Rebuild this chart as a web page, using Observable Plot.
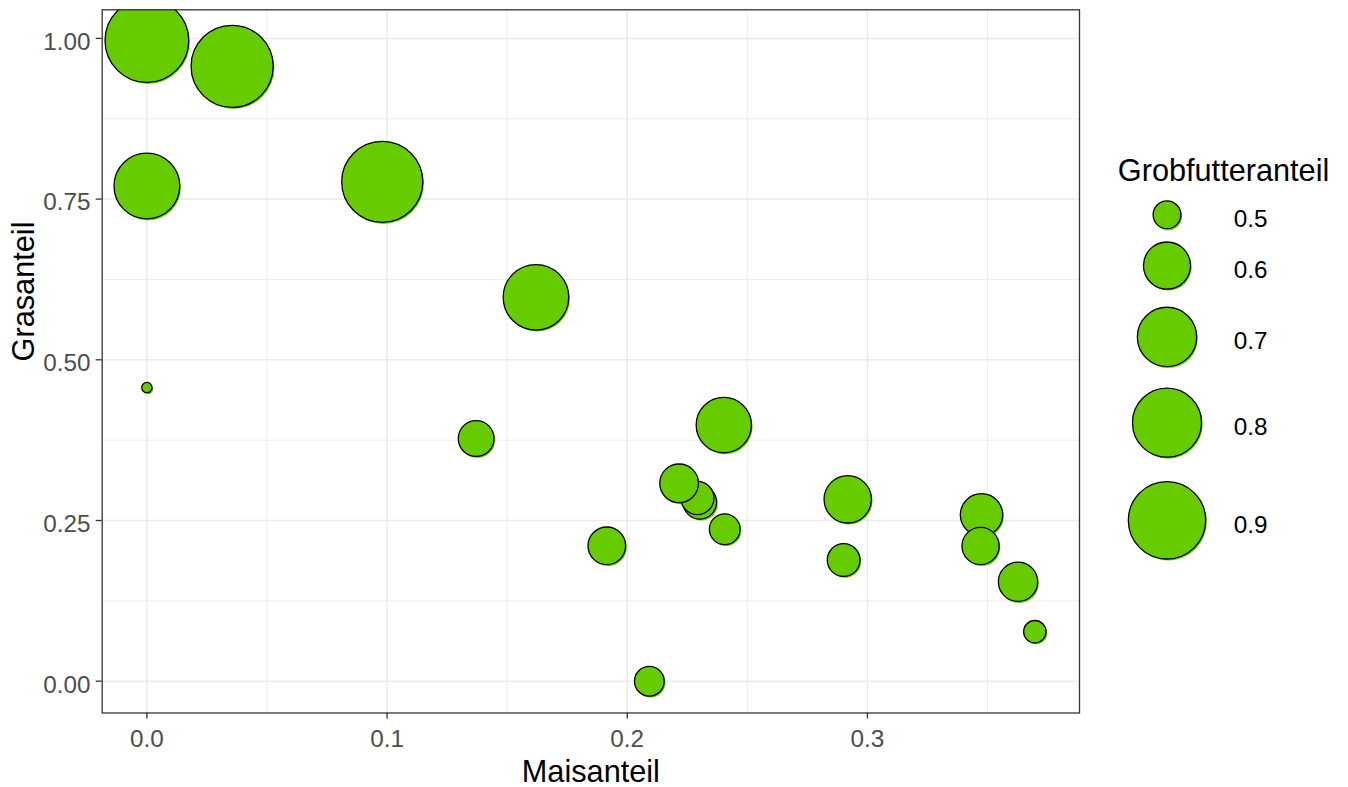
<!DOCTYPE html>
<html>
<head>
<meta charset="utf-8">
<script src="https://cdn.jsdelivr.net/npm/d3@7"></script>
<script src="https://cdn.jsdelivr.net/npm/@observablehq/plot@0.6"></script>
<style>
  html, body { margin: 0; padding: 0; background: #ffffff; }
  #wrap { position: relative; width: 1348px; height: 787px; overflow: hidden;
          font-family: "Liberation Sans", Arial, sans-serif; }
  #main { position: absolute; left: 0; top: 0; }
  #legend { position: absolute; left: 1100px; top: 150px; }
</style>
</head>
<body>
<div id="wrap"><div id="main"></div><div id="legend"></div></div>
<script>
// ---- data ----
const maisanteil = [0, 0.0355, 0, 0.098, 0.162, 0, 0.1371, 0.2402, 0.2302, 0.2292, 0.2216, 0.2406, 0.1915, 0.2918, 0.2901, 0.3475, 0.3471, 0.3627, 0.3697, 0.2092];
const grasanteil = [0.9967, 0.9565, 0.7705, 0.7768, 0.5972, 0.4568, 0.3775, 0.3984, 0.2784, 0.2849, 0.3078, 0.2364, 0.2106, 0.2829, 0.1885, 0.2588, 0.2103, 0.1547, 0.0770, 0];
const grobfutter = [0.985, 0.963, 0.764, 0.949, 0.762, 0.471, 0.533, 0.664, 0.523, 0.521, 0.548, 0.511, 0.542, 0.602, 0.519, 0.569, 0.540, 0.551, 0.485, 0.507];

const xTicks = [0, 0.1, 0.2, 0.3];
const xTickLabels = ["0.0", "0.1", "0.2", "0.3"];
const xMinor = [0.05, 0.15, 0.25, 0.35];
const yTicks = [0, 0.25, 0.5, 0.75, 1];
const yTickLabels = ["0.00", "0.25", "0.50", "0.75", "1.00"];
const yMinor = [0.125, 0.375, 0.625, 0.875];
const legendValues = [0.5, 0.6, 0.7, 0.8, 0.9];
const legendLabels = ["0.5", "0.6", "0.7", "0.8", "0.9"];

const xLabel = "Maisanteil";
const yLabel = "Grasanteil";
const sizeLabel = "Grobfutteranteil";

// ---- styles ----
const green = "#66CC00";
const strokeW = 1.3;
const font = "'Liberation Sans', Arial, sans-serif";
const tickFont = 24.3;
const titleFont = 30.7;
const sizeRange = [5.15, 41.86];
const xDomain = [-0.0186, 0.3883];
const yDomain = [-0.0495, 1.0445];

const rows = maisanteil.map((x, i) => ({mais: x, gras: grasanteil[i], grob: grobfutter[i]}));
const gMin = d3.min(grobfutter), gMax = d3.max(grobfutter);
const rOptions = {type: "sqrt", transform: v => v - gMin, domain: [0, gMax - gMin], range: sizeRange};

const main = Plot.plot({
  width: 1090,
  height: 787,
  marginLeft: 101.7,
  marginRight: 11,
  marginTop: 9.3,
  marginBottom: 74.5,
  style: {fontFamily: font, background: "#ffffff", overflow: "visible"},
  x: {domain: xDomain},
  y: {domain: yDomain},
  r: rOptions,
  marks: [
    Plot.ruleX(xMinor, {stroke: "#EBEBEB", strokeWidth: 0.9}),
    Plot.ruleY(yMinor, {stroke: "#EBEBEB", strokeWidth: 0.9}),
    Plot.ruleX(xTicks, {stroke: "#EBEBEB", strokeWidth: 1.5}),
    Plot.ruleY(yTicks, {stroke: "#EBEBEB", strokeWidth: 1.5}),
    // faint offset under-layer seen in the reference
    Plot.dot(rows, {x: "mais", y: "gras", r: "grob", fill: green, dx: 1.2, dy: 1.5, sort: null, clip: true}),
    Plot.dot(rows, {x: "mais", y: "gras", r: "grob", fill: green, stroke: "#000000", strokeWidth: strokeW, sort: null, clip: true}),
    Plot.frame({stroke: "#333333", strokeWidth: 1.3}),
    Plot.axisX(xTicks, {tickSize: 6, tickPadding: 10.5, stroke: "#333333", strokeWidth: 1.3, fill: "#4D4D4D",
      fontSize: tickFont, tickFormat: d => xTickLabels[xTicks.indexOf(d)], label: null}),
    Plot.axisY(yTicks, {tickSize: 6, fill: "none", stroke: "#333333", strokeWidth: 1.3, label: null}),
    Plot.axisY(yTicks, {tickSize: 6, tickPadding: 5.7, stroke: "none", fill: "#4D4D4D", dy: 3.6,
      fontSize: tickFont, tickFormat: d => yTickLabels[yTicks.indexOf(d)], label: null}),
    Plot.text([xLabel], {frameAnchor: "bottom", lineAnchor: "bottom", dy: 68.5, fontSize: titleFont, fill: "#000000"}),
    Plot.text([yLabel], {frameAnchor: "left", lineAnchor: "bottom", rotate: -90, dx: -68.4, fontSize: titleFont, fill: "#000000"})
  ]
});
document.getElementById("main").appendChild(main);

// ---- legend (same size scale) ----
const rFn = d3.scaleSqrt().domain([0, gMax - gMin]).range(sizeRange);
const keyFactor = 1.31;
const legendTop = 45.3;
let acc = legendTop;
const legendRows = legendValues.map((v, i) => {
  const h = keyFactor * 2 * (rFn(v - gMin) + strokeW / 2);
  const row = {v, label: legendLabels[i], cy: acc + h / 2};
  acc += h;
  return row;
});

const legend = Plot.plot({
  width: 248,
  height: 410,
  marginLeft: 0,
  marginRight: 115,
  marginTop: 0,
  marginBottom: 0,
  style: {fontFamily: font, background: "transparent", overflow: "visible"},
  x: {axis: null},
  y: {type: "identity", axis: null},
  r: rOptions,
  marks: [
    Plot.text([sizeLabel], {frameAnchor: "top-left", lineAnchor: "bottom", dx: 17.3, dy: 30, textAnchor: "start", fontSize: titleFont, fill: "#000000"}),
    Plot.dot(legendRows, {y: "cy", r: "v", fill: green, dx: 1.2, dy: 1.5, sort: null}),
    Plot.dot(legendRows, {y: "cy", r: "v", fill: green, stroke: "#000000", strokeWidth: strokeW, sort: null}),
    Plot.text(legendRows, {y: "cy", text: "label", frameAnchor: "right", textAnchor: "start", dx: 0.3, dy: 4.5, fontSize: tickFont, fill: "#000000"})
  ]
});
document.getElementById("legend").appendChild(legend);
</script>
</body>
</html>
